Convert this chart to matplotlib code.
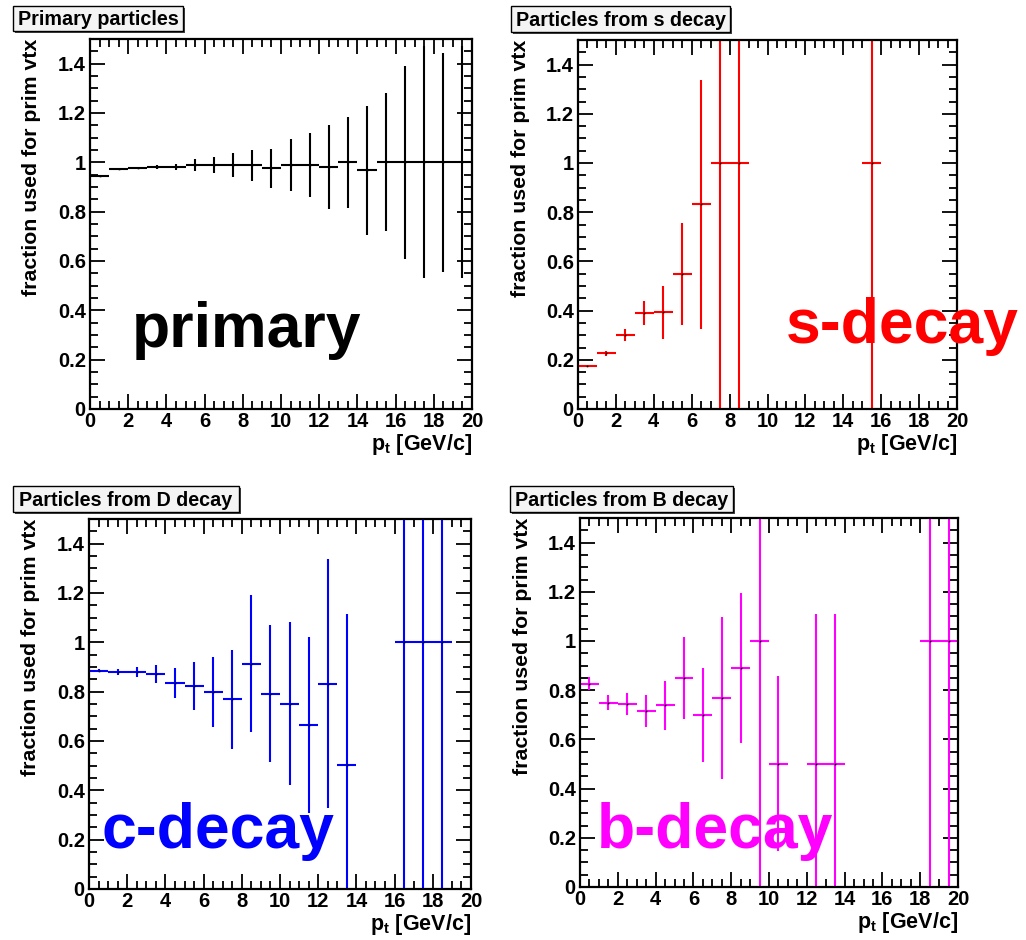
import numpy as np
import matplotlib
matplotlib.use('Agg')
import matplotlib.pyplot as plt
from matplotlib.patches import Rectangle
from matplotlib.ticker import MultipleLocator, FuncFormatter

plt.rcParams['font.family'] = ['Liberation Sans', 'DejaVu Sans']
plt.rcParams['font.weight'] = 'bold'
plt.rcParams['mathtext.fontset'] = 'custom'
plt.rcParams['mathtext.rm'] = 'Liberation Sans:bold'
plt.rcParams['mathtext.bf'] = 'Liberation Sans:bold'

W, H = 1026, 940

# primary particles, one entry per 1 GeV/c bin
primary_pt = [0.5, 1.5, 2.5, 3.5, 4.5, 5.5, 6.5, 7.5, 8.5, 9.5,
              10.5, 11.5, 12.5, 13.5, 14.5, 15.5, 16.5, 17.5, 18.5, 19.5]
primary_frac = [0.944, 0.972, 0.977, 0.982, 0.982, 0.989, 0.989, 0.989, 0.989, 0.976,
                0.989, 0.989, 0.982, 1.0, 0.967, 1.0, 1.0, 1.0, 1.0, 1.0]
primary_err = [0.004, 0.005, 0.006, 0.008, 0.013, 0.023, 0.033, 0.048, 0.063, 0.08,
               0.104, 0.131, 0.17, 0.185, 0.26, 0.28, 0.39, 0.47, 0.443, 0.47]

# strange decays
s_pt = [0.5, 1.5, 2.5, 3.5, 4.5, 5.5, 6.5, 7.5, 8.5, 15.5]
s_frac = [0.173, 0.227, 0.301, 0.389, 0.393, 0.548, 0.833, 1.0, 1.0, 1.0]
s_err = [0.004, 0.01, 0.025, 0.049, 0.107, 0.207, 0.506, 1.0, 1.0, 1.0]

# charm (D) decays
c_pt = [0.5, 1.5, 2.5, 3.5, 4.5, 5.5, 6.5, 7.5, 8.5, 9.5,
        10.5, 11.5, 12.5, 13.5, 16.5, 17.5, 18.5]
c_frac = [0.885, 0.879, 0.879, 0.873, 0.834, 0.822, 0.799, 0.769, 0.914, 0.792,
          0.752, 0.665, 0.833, 0.503, 1.0, 1.0, 1.0]
c_err = [0.006, 0.012, 0.02, 0.037, 0.061, 0.098, 0.141, 0.201, 0.278, 0.278,
         0.332, 0.356, 0.506, 0.61, 1.0, 1.0, 1.0]

# beauty (B) decays
b_pt = [0.5, 1.5, 2.5, 3.5, 4.5, 5.5, 6.5, 7.5, 8.5, 9.5,
        10.5, 12.5, 13.5, 18.5, 19.5]
b_frac = [0.827, 0.75, 0.745, 0.716, 0.739, 0.85, 0.699, 0.769, 0.891, 1.0,
          0.501, 0.5, 0.5, 1.0, 1.0]
b_err = [0.025, 0.03, 0.045, 0.065, 0.1, 0.168, 0.19, 0.328, 0.306, 1.0,
         0.356, 0.61, 0.61, 1.0, 1.0]

panels = [
    # (pt, frac, err, colour, title, big label, axes box px, title box px, label pos px)
    (primary_pt, primary_frac, primary_err, 'black', 'Primary particles', 'primary',
     (90, 39, 472, 409), (13, 6, 183, 31), (132, 347)),
    (s_pt, s_frac, s_err, '#ff0000', 'Particles from s decay', 's-decay',
     (578, 40, 957, 409), (511, 6, 730, 32), (786, 343)),
    (c_pt, c_frac, c_err, '#0000ff', 'Particles from D decay', 'c-decay',
     (89, 519, 471, 889), (13, 486, 239, 512), (101, 848)),
    (b_pt, b_frac, b_err, '#ff00ff', 'Particles from B decay', 'b-decay',
     (580, 518, 958, 887), (510, 486, 733, 512), (597, 848)),
]


def fx(x):
    return x / W


def fy(y):
    return 1 - y / H


fig = plt.figure(figsize=(W / 100, H / 100), dpi=100)
fig.patch.set_facecolor('white')

for pt, frac, err, col, title, big, box, tbox, lpos in panels:
    x0, y0, x1, y1 = box
    ax = fig.add_axes([fx(x0), fy(y1), (x1 - x0) / W, (y1 - y0) / H])
    ax.errorbar(pt, frac, xerr=0.5, yerr=err, fmt='none', ecolor=col,
                elinewidth=1.5, capsize=0)
    ax.plot(pt, frac, ls='none', marker='s', ms=1.2, color='black', mew=0)

    ax.set_xlim(0, 20)
    ax.set_ylim(0, 1.5)
    ax.xaxis.set_major_locator(MultipleLocator(2))
    ax.xaxis.set_minor_locator(MultipleLocator(0.5))
    ax.yaxis.set_major_locator(MultipleLocator(0.2))
    ax.yaxis.set_minor_locator(MultipleLocator(0.05))
    ax.xaxis.set_major_formatter(FuncFormatter(lambda v, p: '%g' % round(v, 2)))
    ax.yaxis.set_major_formatter(FuncFormatter(lambda v, p: '%g' % round(v, 2)))
    ax.tick_params(which='both', direction='in', top=True, right=True,
                   width=1.3, color='black', labelsize=14.5)
    ax.tick_params(axis='x', pad=2)
    ax.tick_params(axis='y', pad=3)
    ax.tick_params(which='major', length=11)
    ax.tick_params(which='minor', length=6)
    for lab in ax.get_xticklabels() + ax.get_yticklabels():
        lab.set_fontweight('bold')
    for sp in ax.spines.values():
        sp.set_linewidth(1.6)

    ax.text(-0.152, 1.0, 'fraction used for prim vtx', rotation=90,
            ha='center', va='top', fontsize=15.3, fontweight='bold',
            transform=ax.transAxes)
    ax.text(1.0, -0.11, r'$\mathbf{p_t}$ [GeV/c]', ha='right', va='baseline',
            fontsize=15.5, fontweight='bold', transform=ax.transAxes)

    # title box with drop shadow
    tx0, ty0, tx1, ty1 = tbox
    fig.add_artist(Rectangle((fx(tx0 + 2), fy(ty1 + 2)), (tx1 - tx0) / W, (ty1 - ty0) / H,
                             transform=fig.transFigure, facecolor='#444444',
                             edgecolor='none', zorder=5))
    fig.add_artist(Rectangle((fx(tx0), fy(ty1)), (tx1 - tx0) / W, (ty1 - ty0) / H,
                             transform=fig.transFigure, facecolor='#f4f4f4',
                             edgecolor='black', linewidth=1.0, zorder=6))
    fig.text(fx((tx0 + tx1) / 2), fy((ty0 + ty1) / 2 + 1), title, ha='center',
             va='center', fontsize=14.2, fontweight='bold', zorder=7)

    fig.text(fx(lpos[0]), fy(lpos[1]), big, ha='left', va='baseline',
             fontsize=45, fontweight='bold', color=col, zorder=8)

fig.savefig('out.png', dpi=100, facecolor='white')
